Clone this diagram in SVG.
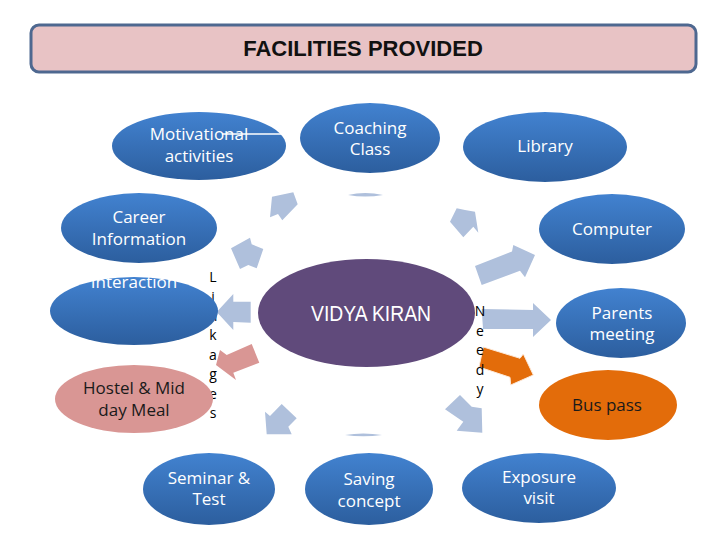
<svg xmlns="http://www.w3.org/2000/svg" width="720" height="540" viewBox="0 0 720 540">
<defs>
<linearGradient id="blue" x1="0" y1="0" x2="0" y2="1">
<stop offset="0" stop-color="#4282d0"/>
<stop offset="1" stop-color="#2c5e9e"/>
</linearGradient>
<style>
.b{fill:url(#blue);}
.wt{font-family:"Open Sans","Liberation Sans",sans-serif;font-size:17px;fill:#ffffff;text-anchor:middle;}
.dt{font-family:"Open Sans","Liberation Sans",sans-serif;font-size:17px;fill:#1a1a1a;text-anchor:middle;}
.lt{font-family:"Open Sans","Liberation Sans",sans-serif;font-size:14px;fill:#000000;text-anchor:middle;}
.ar{fill:#afc0dc;}
</style>
</defs>
<rect width="720" height="540" fill="#ffffff"/>
<g id="title">
<rect x="31" y="25" width="665" height="47" rx="8" fill="#e8c3c5" stroke="#4e6890" stroke-width="3"/>
<text x="363" y="56" font-family="Liberation Sans, Arial, sans-serif" font-size="22" font-weight="bold" text-anchor="middle" fill="#111">FACILITIES PROVIDED</text>
</g>
<g id="linkages-label">
<text class="lt" x="213" y="282">L</text>
<text class="lt" x="213" y="301.5">i</text>
<text class="lt" x="213" y="321">n</text>
<text class="lt" x="213" y="340">k</text>
<text class="lt" x="213" y="359.5">a</text>
<text class="lt" x="213" y="379">g</text>
<text class="lt" x="213" y="398.5">e</text>
<text class="lt" x="213" y="418">s</text>
</g>
<g id="connectors">
<polygon class="ar" points="272,196.7 293.3,192.3 297.7,204.3 282.3,220.3 278,214 270,217.3"/>
<path class="ar" d="M348,195 Q365,191 383,195 Q365,198 348,195 Z"/>
<polygon class="ar" points="450,221.7 456.7,208.3 465,210 475,211.7 478.3,232.7 473.3,226.7 463.3,237.3"/>
<polygon class="ar" points="231,248.3 250,237.7 251.7,244.3 263.3,249 256.7,268.3 248.3,265 240,269"/>
<polygon class="ar" points="475,266 512,251.5 513.3,245 535,255 525,277.3 520,270.7 481.7,285"/>
<polygon class="ar" points="216.7,312 233.3,294 233.3,301.7 250.7,301.7 250.7,322.7 233.3,322 233.3,330"/>
<polygon class="ar" points="481.7,309 533,310 533,303 551,320 533,337 533,329 483,329"/>
<polygon fill="#d99694" points="216,365 220,350 226.7,355 251.7,344 259.3,362.7 233.3,372.7 236,380"/>
<polygon fill="#e36c0a" stroke="#fde9d9" stroke-width="1" points="483.3,347 520,358.3 523.3,354 533.3,375 510.7,385 510,377.3 479,367"/>
<polygon class="ar" points="265,411.7 270,416 281.7,404 296.7,418.3 288.3,426.7 291.7,434.3 266.7,434.3"/>
<path class="ar" d="M345,435 Q363,432 382,435 Q363,437.5 345,435 Z"/>
<polygon class="ar" points="445,409.3 460,395 471.7,406.7 481.7,408.3 482.3,432.7 456.7,430.7 463.3,421.7"/>
</g>
<g id="needy-label">
<text class="lt" x="480" y="316">N</text>
<text class="lt" x="480" y="335.5">e</text>
<text class="lt" x="480" y="355">e</text>
<text class="lt" x="480" y="374.5">d</text>
<text class="lt" x="480" y="394">y</text>
</g>
<g id="vidya-kiran">
<ellipse cx="366.5" cy="313" rx="108.5" ry="54" fill="#604a7b"/>
<text x="371" y="321" font-family="Liberation Sans, Arial, sans-serif" font-size="22" fill="#ffffff" text-anchor="middle" textLength="120" lengthAdjust="spacingAndGlyphs">VIDYA KIRAN</text>
</g>
<g id="motivational">
<ellipse class="b" cx="199" cy="146" rx="87" ry="34"/>
<text class="wt" x="199" y="140">Motivational</text>
<text class="wt" x="199" y="162">activities</text>
<line x1="222" y1="134" x2="282" y2="134" stroke="#ffffff" stroke-width="1.3"/>
</g>
<g id="coaching">
<ellipse class="b" cx="370" cy="138" rx="70" ry="35"/>
<text class="wt" x="370" y="134">Coaching</text>
<text class="wt" x="370" y="155">Class</text>
</g>
<g id="library">
<ellipse class="b" cx="545" cy="147" rx="82" ry="35"/>
<text class="wt" x="545" y="152">Library</text>
</g>
<g id="career">
<ellipse class="b" cx="139" cy="228" rx="78" ry="35"/>
<text class="wt" x="139" y="223">Career</text>
<text class="wt" x="139" y="245">Information</text>
</g>
<g id="computer">
<ellipse class="b" cx="612" cy="229" rx="73" ry="35"/>
<text class="wt" x="612" y="235">Computer</text>
</g>
<g id="interaction">
<ellipse class="b" cx="134" cy="311" rx="84" ry="34"/>
<text class="wt" x="134" y="288">Interaction</text>
</g>
<g id="parents">
<ellipse class="b" cx="621" cy="323" rx="65" ry="35"/>
<text class="wt" x="622" y="319">Parents</text>
<text class="wt" x="622" y="340">meeting</text>
</g>
<g id="hostel">
<ellipse cx="134" cy="399" rx="79" ry="34" fill="#d99694"/>
<text class="dt" x="134" y="394">Hostel &amp; Mid</text>
<text class="dt" x="134" y="416">day Meal</text>
</g>
<g id="buspass">
<ellipse cx="608" cy="405" rx="69" ry="35" fill="#e36c0a"/>
<text class="dt" x="607" y="411">Bus pass</text>
</g>
<g id="seminar">
<ellipse class="b" cx="209" cy="489" rx="66" ry="36"/>
<text class="wt" x="209" y="484">Seminar &amp;</text>
<text class="wt" x="209" y="505">Test</text>
</g>
<g id="saving">
<ellipse class="b" cx="369" cy="489" rx="64" ry="36"/>
<text class="wt" x="369" y="485">Saving</text>
<text class="wt" x="369" y="507">concept</text>
</g>
<g id="exposure">
<ellipse class="b" cx="539" cy="488" rx="77" ry="35"/>
<text class="wt" x="539" y="483">Exposure</text>
<text class="wt" x="539" y="504">visit</text>
</g>
</svg>
